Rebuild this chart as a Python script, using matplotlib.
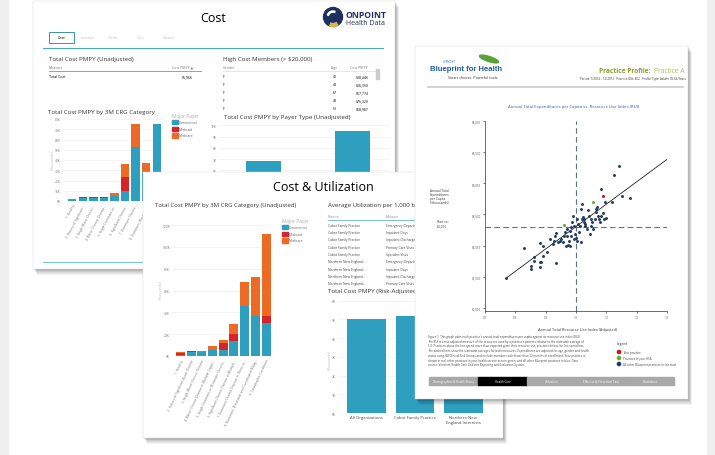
import textwrap
import numpy as np
import matplotlib
matplotlib.use('Agg')
import matplotlib.pyplot as plt
from matplotlib.patches import Rectangle, Circle, Ellipse, Wedge

plt.rcParams['font.family'] = ['Open Sans', 'DejaVu Sans']

# ---- data ----
crg_short = ['1. Healthy', '2. History of Significant...', '3. Single Minor Chronic...',
             '4. Minor Chronic Disease...', '5. Single Dominant or...', '6. Significant Chronic...',
             '7. Dominant Chronic...', '8. Dominant, Metastatic...', '9. Catastrophic...']
crg_long = ['1. Healthy', '2. History of Significant Acute Disease', '3. Single Minor Chronic Disease',
            '4. Minor Chronic Disease in Multiple Organ...', '5. Single Dominant or Moderate Chronic...',
            '6. Significant Chronic Disease in Multiple...', '7. Dominant Chronic Disease in Three or...',
            '8. Dominant, Metastatic and Complicated Malig...', '9. Catastrophic Conditions']
payers = ['Commercial', 'Medicaid', 'Medicare']

# back dashboard "Cost" (thousands)
crg1_commercial = [0.5, 3.2, 3.2, 3.3, 4.9, 9.8, 52.9, 28.1, 75.2]
crg1_medicaid = [0.8, 0.4, 0.3, 0.3, 0.3, 14.1, 0, 0, 0]
crg1_medicare = [0.4, 0.3, 0.4, 0.4, 2.3, 12.1, 22.3, 8.5, 0]
payer_types = ['Commercial', 'Medicare']
payer_cost = [6.8, 9.5]
hc_gender = ['F', 'F', 'F', 'F', 'F']
hc_age = [42, 44, 67, 48, 51]
hc_cost = ['$28,446', '$26,350', '$67,774', '$76,320', '$58,987']

# front dashboard "Cost & Utilization" (thousands)
crg2_commercial = [1.0, 3.3, 3.6, 5.8, 5.2, 14.0, 46.0, 36.5, 30.0]
crg2_medicaid = [1.4, 1.0, 0, 0, 6.7, 5.8, 0, 0, 7.0]
crg2_medicare = [0.9, 0.6, 0.7, 3.6, 3.0, 9.7, 21.6, 36.3, 75.0]
orgs = ['All Organizations', 'Cabot Family Practice', 'Northern New\nEngland Internists']
risk_adj_cost = [5.0, 5.2, 5.1]
util_practice = ['Cabot Family Practice'] * 5 + ['Northern New England...'] * 4
util_measure = ['Emergency Department Visits', 'Inpatient Days', 'Inpatient Discharges',
                'Primary Care Visits', 'Specialist Visits', 'Emergency Department Visits',
                'Inpatient Days', 'Inpatient Discharges', 'Primary Care Visits']

# Blueprint practice profile scatter (RUI vs annual expenditure per capita)
rui = [0.77, 0.83, 0.86, 0.86, 0.85, 0.85, 0.88, 0.885, 0.88, 0.88, 0.89, 0.89, 0.905, 0.914,
       0.923, 0.929, 0.934, 0.931, 0.935, 0.941, 0.946, 0.951, 0.958, 0.960, 0.964, 0.967,
       0.969, 0.971, 0.974, 0.976, 0.979, 0.980, 0.982, 0.985, 0.988, 0.991, 0.993, 0.995,
       0.997, 0.999, 1.002, 1.004, 1.007, 1.010, 1.013, 1.015, 1.018, 1.019, 1.021, 1.024,
       1.026, 1.028, 1.029, 1.031, 1.035, 1.040, 1.043, 1.046, 1.048, 1.051, 1.054, 1.056,
       1.061, 1.065, 1.067, 1.070, 1.073, 1.076, 1.078, 1.082, 1.084, 1.089, 1.092, 1.097,
       1.100, 1.120, 1.124, 1.142, 1.150, 1.179]
spend = [2480, 2960, 2820, 2760, 2680, 2630, 2730, 2730, 2660, 3040, 3000, 2840, 2890, 3110,
         3030, 3080, 3200, 3160, 2720, 3060, 3080, 3100, 3050, 3160, 3210, 2990, 3150, 3270,
         3010, 3080, 3230, 3000, 3290, 3160, 3370, 3480, 3320, 3110, 3190, 3120, 3080, 3430,
         3350, 3210, 3320, 3590, 3050, 3670, 3430, 3460, 3370, 3430, 3320, 3350, 3270, 3570,
         3480, 3190, 3430, 3320, 3370, 3260, 3430, 3590, 3540, 3620, 3480, 3430, 3370, 3910,
         3480, 3520, 3430, 3690, 3440, 3690, 4130, 4280, 3790, 3760]
practice_rui, practice_spend = [1.089], [3800]
hsa_rui, hsa_spend = [1.056, 0.959], [3690, 3330]
trend_rui, trend_spend = [0.77, 1.30], [2480, 4380]
state_rui, state_spend = 1.0, 3290
rui_ticks = [0.7, 0.8, 0.9, 1.0, 1.1, 1.2, 1.3]
spend_ticks = [2000, 2500, 3000, 3500, 4000, 4500, 5000]
nav_items = ['Demographics & Health Status', 'Health Care', 'Utilization',
             'Effective & Preventive Care', 'Breakdown']

TEAL, RED, ORANGE = '#2f9fc0', '#d9232b', '#ec6a23'
NAVY, GREEN, DRED = '#1f3a64', '#6cab2d', '#c01a1f'

W, H = 715, 456
fig = plt.figure(figsize=(W / 100, H / 100), dpi=100)


def frac(x0, y0, x1, y1):
    return [x0 / W, 1 - y1 / H, (x1 - x0) / W, (y1 - y0) / H]


def panel(x0, y0, x1, y1, z):
    ax = fig.add_axes(frac(x0, y0, x1, y1), zorder=z)
    ax.set_xlim(x0, x1)
    ax.set_ylim(y1, y0)
    ax.axis('off')
    for k in range(1, 8):
        ax.add_patch(Rectangle((x0 + k * 0.55, y0 + k * 0.8), x1 - x0, y1 - y0, fc='black',
                               ec='none', alpha=0.05, clip_on=False, zorder=0))
    ax.add_patch(Rectangle((x0, y0), x1 - x0, y1 - y0, fc='white', ec='#d8d8d8', lw=0.3,
                           clip_on=False, zorder=1))
    return ax


def chart(x0, y0, x1, y1, z):
    ax = fig.add_axes(frac(x0, y0, x1, y1), zorder=z)
    ax.set_facecolor('none')
    for s in ax.spines.values():
        s.set_visible(False)
    ax.tick_params(length=0, labelsize=2.3, labelcolor='#777777', pad=1.5)
    ax.grid(axis='y', color='#ececec', lw=0.4)
    ax.set_axisbelow(True)
    return ax


def stacked(ax, comm, mcd, mcr, width):
    x = np.arange(len(comm))
    ax.bar(x, comm, width, color=TEAL)
    ax.bar(x, mcd, width, bottom=comm, color=RED)
    ax.bar(x, mcr, width, bottom=np.add(comm, mcd), color=ORANGE)


def legend_box(ax, x, y):
    ax.text(x, y, 'Major Payer', fontsize=3.4, color='#aaaaaa', va='center', zorder=2)
    for i, (p, c) in enumerate(zip(payers, [TEAL, RED, ORANGE])):
        ax.add_patch(Rectangle((x, y + 4 + i * 6.7), 5.5, 4.2, color=c, zorder=2))
        ax.text(x + 7, y + 6.1 + i * 6.7, p, fontsize=2.4, color='#666666', va='center', zorder=2)


# background edges
bg = fig.add_axes([0, 0, 1, 1], zorder=0)
bg.set_xlim(0, W)
bg.set_ylim(H, 0)
bg.axis('off')
bg.add_patch(Rectangle((0, 0), 8, H, color='#f0f0f0'))
bg.add_patch(Rectangle((707, 0), 8, H, color='#f0f0f0'))

# ---------------- panel 1: Cost ----------------
p1 = panel(33, 2, 395, 270, 1)
p1.text(213, 19, 'Cost', fontsize=9, ha='center', va='center', zorder=2)
p1.add_patch(Circle((333, 18), 9.5, color='#1d3060', zorder=2))
p1.add_patch(Wedge((333, 18), 9.5, 60, 110, width=3, color='#d9b64a', zorder=3))
p1.add_patch(Wedge((333, 18), 6, 200, 290, width=1.2, color='white', zorder=3))
p1.text(345, 15.5, 'ONPOINT', fontsize=6.2, weight='bold', color='#1d3060', va='center', zorder=2)
p1.text(346, 24, 'Health Data', fontsize=5, color='#1d3060', va='center', zorder=2)
p1.add_patch(Rectangle((49, 33), 25, 11, fc='white', ec='#3c8fb0', lw=0.7, zorder=2))
p1.text(61.5, 38.5, 'Date', fontsize=2.5, ha='center', va='center', zorder=2)
for tx, tab in zip([88, 113, 141, 168], ['Location', 'Fields', 'Gary', 'Roland']):
    p1.text(tx, 38.5, tab, fontsize=2.5, color='#c0c0c0', ha='center', va='center', zorder=2)
p1.plot([43, 383], [49, 49], color='#4aa8c8', lw=0.8, zorder=2)
p1.plot([43, 383], [263, 263], color='#7cc2dc', lw=0.8, zorder=2)

p1.text(49, 60, 'Total Cost PMPY (Unadjusted)', fontsize=4.4, color='#333333', va='center', zorder=2)
p1.text(49, 68, 'Measure', fontsize=2.5, color='#777777', va='center', zorder=2)
p1.text(193, 68, 'Cost PMPY \u25b2', fontsize=2.5, color='#777777', ha='right', va='center', zorder=2)
p1.plot([49, 201], [72, 72], color='#4aa8c8', lw=0.6, zorder=2)
p1.text(49, 77, 'Total Cost', fontsize=2.5, va='center', zorder=2)
p1.text(193, 77, '$6,966', fontsize=2.5, ha='right', va='center', zorder=2)

p1.text(223, 60, 'High Cost Members (> $20,000)', fontsize=4.4, color='#333333', va='center', zorder=2)
p1.text(223, 68, 'Gender', fontsize=2.5, color='#777777', va='center', zorder=2)
p1.text(337, 68, 'Age', fontsize=2.5, color='#777777', ha='right', va='center', zorder=2)
p1.text(368, 68, 'Cost PMPY', fontsize=2.5, color='#777777', ha='right', va='center', zorder=2)
p1.plot([223, 375], [72, 72], color='#dddddd', lw=0.5, zorder=2)
p1.add_patch(Rectangle((376, 70), 3, 10, color='#cccccc', zorder=2))
for i, (g, a, c) in enumerate(zip(hc_gender, hc_age, hc_cost)):
    yy = 77 + i * 8
    p1.text(223, yy, g, fontsize=2.5, va='center', zorder=2)
    p1.text(337, yy, str(a), fontsize=2.5, ha='right', va='center', zorder=2)
    p1.text(369, yy, c, fontsize=2.5, ha='right', va='center', zorder=2)

p1.text(48, 113, 'Total Cost PMPY by 3M CRG Category', fontsize=4.4, color='#333333', va='center', zorder=2)
p1.text(53, 160, '(Thousands)', fontsize=2.5, color='#bbbbbb', rotation=90, ha='center', va='center', zorder=2)
legend_box(p1, 172, 117)
p1.text(224, 118, 'Total Cost PMPY by Payer Type (Unadjusted)', fontsize=4.4, color='#333333', va='center', zorder=2)

c1 = chart(63, 120, 163, 202, 1.5)
stacked(c1, crg1_commercial, crg1_medicaid, crg1_medicare, 0.79)
c1.set_xlim(-0.87, 8.59)
c1.set_ylim(0, 80)
c1.set_yticks(range(0, 81, 10))
c1.set_yticklabels([f'{v}K' for v in range(0, 81, 10)])
c1.set_xticks(range(len(crg_short)))
c1.set_xticklabels(crg_short, rotation=62, ha='right', rotation_mode='anchor')

# only the upper part of this chart shows above the front panel
c2 = chart(219, 123, 390, 239, 1.5)
c2.bar(range(len(payer_types)), payer_cost, 0.4, color=TEAL)
c2.set_xlim(-0.5, 1.42)
c2.set_ylim(0, 10.3)
c2.set_yticks(range(6, 11))
c2.set_yticklabels([f'{v}K' for v in range(6, 11)])
c2.set_xticks([])

# ---------------- panel 2: Cost & Utilization ----------------
p2 = panel(143, 173, 503, 439, 2)
p2.text(323, 187, 'Cost & Utilization', fontsize=9, ha='center', va='center', zorder=2)
p2.text(155, 206, 'Total Cost PMPY by 3M CRG Category (Unadjusted)', fontsize=4.3, color='#333333', va='center', zorder=2)
p2.text(161, 290, '(Thousands)', fontsize=2.5, color='#bbbbbb', rotation=90, ha='center', va='center', zorder=2)
legend_box(p2, 282, 222)
p2.text(328, 206, 'Average Utilization per 1,000 b', fontsize=4.4, color='#333333', va='center', zorder=2)
p2.text(328, 217, 'Practice', fontsize=2.3, color='#888888', va='center', zorder=2)
p2.text(386, 217, 'Measure', fontsize=2.3, color='#888888', va='center', zorder=2)
p2.plot([328, 430], [220.5, 220.5], color='#4aa8c8', lw=0.5, zorder=2)
for i, (pr, ms) in enumerate(zip(util_practice, util_measure)):
    yy = 225.5 + i * 7.35
    p2.text(328, yy, pr, fontsize=2.3, color='#444444', va='center', zorder=2)
    p2.text(386, yy, ms, fontsize=2.3, color='#444444', va='center', zorder=2)
p2.text(328, 292, 'Total Cost PMPY (Risk-Adjusted)', fontsize=4.4, color='#333333', va='center', zorder=2)
p2.text(330, 360, '(Thousands)', fontsize=2.5, color='#bbbbbb', rotation=90, ha='center', va='center', zorder=2)

c3 = chart(172, 226, 272, 357, 2.5)
stacked(c3, crg2_commercial, crg2_medicaid, crg2_medicare, 0.84)
c3.set_xlim(-0.8, 8.56)
c3.set_ylim(0, 120)
c3.set_yticks(range(0, 121, 20))
c3.set_yticklabels([f'{v}K' for v in range(0, 121, 20)])
c3.set_xticks(range(len(crg_long)))
c3.set_xticklabels(crg_long, rotation=65, ha='right', rotation_mode='anchor')

c4 = chart(338, 301.7, 490, 414, 2.5)
c4.bar(range(len(orgs)), risk_adj_cost, 0.8, color=TEAL)
c4.set_xlim(-0.59, 2.55)
c4.set_ylim(0, 6)
c4.set_yticks(range(0, 7))
c4.set_yticklabels([f'{v}K' for v in range(0, 7)])
c4.set_xticks(range(len(orgs)))
c4.set_xticklabels(orgs, fontsize=3, color='#444444')

# ---------------- panel 3: Blueprint practice profile ----------------
p3 = panel(415, 47, 688, 400, 3)
p3.text(443, 62.5, 'VERMONT', fontsize=1.8, color='#1f5ea8', va='center', zorder=2)
p3.add_patch(Ellipse((489, 60), 20, 5, angle=18, color='#5aa13c', zorder=2))
p3.text(430, 69.5, 'Blueprint for Health', fontsize=5.6, weight='bold', color='#1f5ea8',
        family=['Liberation Sans', 'DejaVu Sans'], va='center', zorder=2)
p3.text(448, 78, 'Smart choices. Powerful tools.', fontsize=2.6, color='#333333', va='center', zorder=2)
p3.text(685, 72, 'Practice A', fontsize=4.8, color='#a9bd62', ha='right', va='center', zorder=2)
p3.text(650.5, 72, 'Practice Profile:', fontsize=4.8, weight='bold', color='#8b9c32', ha='right', va='center', zorder=2)
p3.text(686, 79.5, 'Period: 1/2012 - 12/2012   Practice ID#: 402   Profile Type: Adults 18-64 Years',
        fontsize=2.2, color='#333333', ha='right', va='center', zorder=2)
p3.plot([428, 683], [88, 88], color='#cccccc', lw=1.2, zorder=2)
p3.text(574, 107, 'Annual Total Expenditures per Capita vs. Resource Use Index (RUI)',
        fontsize=3.1, color='#2f5b9c', ha='center', va='center', zorder=2)
p3.text(430, 197, 'Annual Total\nExpenditures\nper Capita\n($thousands)', fontsize=2.3,
        color='#333333', va='center', linespacing=1.1, zorder=2)
p3.text(437, 224, 'Practice:\n$3,291', fontsize=2.3, color='#333333', va='center',
        linespacing=1.1, zorder=2)
p3.text(577, 330, 'Annual Total Resource Use Index (Adjusted)', fontsize=2.8,
        color='#333333', ha='center', va='center', zorder=2)
note = ("Figure 1. This graph plots each practice's annual total expenditures per capita against its "
        "resource use index (RUI). The RUI is a risk-adjusted measure of the resources used by a practice's "
        "patients relative to the statewide average of 1.0. Practices above the line spend more than expected "
        "given their resource use; practices below the line spend less. The dashed lines show the statewide "
        "averages for both measures. Expenditures are adjusted for age, gender and health status using 3M "
        "Clinical Risk Groups and exclude members with fewer than 12 months of enrollment. Your practice is "
        "shown in red, other practices in your health service area in green, and all other Blueprint "
        "practices in blue. Data source: Vermont Health Care Uniform Reporting and Evaluation System.")
p3.text(428, 335, '\n'.join(textwrap.wrap(note, 118)), fontsize=2.05, color='#444444',
        va='top', linespacing=1.25, zorder=2)
p3.text(617, 344, 'Legend', fontsize=2.3, color='#333333', va='center', zorder=2)
legend_items = ['Your practice', 'Practices in your HSA', 'All other Blueprint practices in the state']
for i, (lab, col) in enumerate(zip(legend_items, [DRED, GREEN, NAVY])):
    p3.add_patch(Circle((619, 353 + i * 6), 1.6, color=col, zorder=2))
    p3.text(623, 353 + i * 6, lab, fontsize=2.1, color='#444444', va='center', zorder=2)
nav_x = [429, 478, 527, 576, 626, 674]
for i, item in enumerate(nav_items):
    active = item == 'Health Care'
    p3.add_patch(Rectangle((nav_x[i], 378), nav_x[i + 1] - nav_x[i] - 0.4, 7.5,
                           color='black' if active else '#a8a8a8', zorder=2))
    p3.text((nav_x[i] + nav_x[i + 1]) / 2, 381.8, item, fontsize=2.1, color='white',
            ha='center', va='center', zorder=3)

sc = fig.add_axes(frac(485, 121.7, 667, 311.5), zorder=3.5)
sc.set_facecolor('none')
sc.axvline(state_rui, color='#5b7191', lw=0.8, ls=(0, (5, 3)), zorder=1)
sc.axhline(state_spend, color='#5b7191', lw=0.8, ls=(0, (5, 3)), zorder=1)
sc.plot(trend_rui, trend_spend, color='#222222', lw=0.6, zorder=2)
sc.scatter(rui, spend, s=4.5, color=NAVY, lw=0, zorder=3)
sc.scatter(hsa_rui, hsa_spend, s=4.8, color=GREEN, lw=0, zorder=4)
sc.scatter(practice_rui, practice_spend, s=4.8, color=DRED, lw=0, zorder=4)
sc.set_xlim(0.7, 1.3)
sc.set_ylim(1960, 5000)
sc.set_xticks(rui_ticks)
sc.set_xticklabels([f'{v:.1f}' for v in rui_ticks])
sc.set_yticks(spend_ticks)
sc.set_yticklabels([f'${v:,}' for v in spend_ticks])
for s in ['top', 'right']:
    sc.spines[s].set_visible(False)
for s in ['left', 'bottom']:
    sc.spines[s].set_linewidth(0.5)
    sc.spines[s].set_color('#333333')
sc.tick_params(labelsize=2.2, labelcolor='#555555', length=1.5, width=0.4, pad=1.5)

fig.savefig('out.png', dpi=100, facecolor='white')
